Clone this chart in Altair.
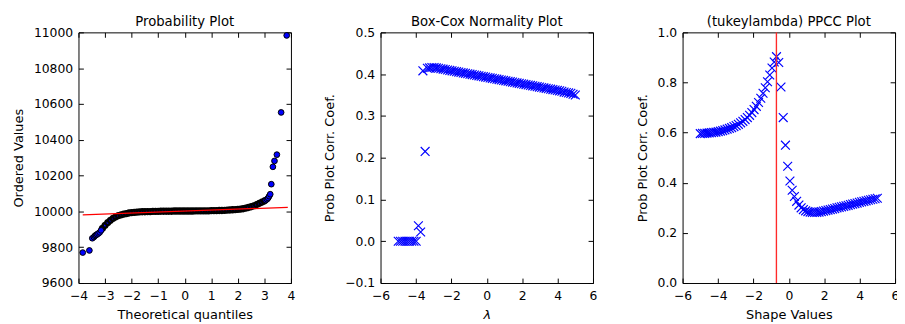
import altair as alt
import pandas as pd

# ---------------- data ----------------
# Probability plot: sparse tail points (theoretical quantile, ordered value)
qq_tail_x = [-3.84, -3.59, -3.48, -3.42, -3.38, -3.34, -3.30, -3.25, -3.20, -3.15,
             3.05, 3.10, 3.14, 3.18, 3.22, 3.26, 3.32, 3.38, 3.47, 3.63, 3.84]
qq_tail_y = [9770, 9782, 9850, 9857, 9864, 9868, 9872, 9877, 9883, 9894,
             10063, 10068, 10075, 10085, 10096, 10152, 10249, 10282, 10317, 10553, 10983]
# Probability plot: dense body of the sample
qq_body_x = [-3.1, -3.0, -2.9, -2.8, -2.7, -2.6, -2.5, -2.4, -2.3, -2.2,
             -2.1, -2.0, -1.9, -1.8, -1.7, -1.6, -1.5, -1.4, -1.3, -1.2,
             -1.1, -1.0, -0.9, -0.8, -0.7, -0.6, -0.5, -0.4, -0.3, -0.2,
             -0.1, 0.0, 0.1, 0.2, 0.3, 0.4, 0.5, 0.6, 0.7, 0.8,
             0.9, 1.0, 1.1, 1.2, 1.3, 1.4, 1.5, 1.6, 1.7, 1.8,
             1.9, 2.0, 2.1, 2.2, 2.3, 2.4, 2.5, 2.6, 2.7, 2.8,
             2.9, 3.0]
qq_body_y = [9905, 9922, 9937, 9950, 9961, 9969, 9976, 9981, 9985, 9988,
             9991, 9993, 9995, 9996, 9997, 9998, 9998, 9999, 9999, 10000,
             10000, 10000, 10001, 10001, 10001, 10001, 10001, 10002, 10002, 10002,
             10002, 10002, 10002, 10002, 10002, 10003, 10003, 10003, 10003, 10003,
             10003, 10004, 10004, 10004, 10005, 10005, 10006, 10007, 10008, 10009,
             10010, 10011, 10013, 10015, 10018, 10022, 10026, 10031, 10037, 10044,
             10051, 10058]
# least-squares fit line end points
fit_x = [-3.84, 3.88]
fit_y = [9980, 10023]

# Box-Cox normality plot
boxcox_lambda = [-5.000, -4.873, -4.747, -4.620, -4.494, -4.367, -4.241, -4.114, -3.987, -3.861,
                 -3.734, -3.608, -3.481, -3.354, -3.228, -3.101, -2.975, -2.848, -2.722, -2.595,
                 -2.468, -2.342, -2.215, -2.089, -1.962, -1.835, -1.709, -1.582, -1.456, -1.329,
                 -1.203, -1.076, -0.949, -0.823, -0.696, -0.570, -0.443, -0.316, -0.190, -0.063,
                 0.063, 0.190, 0.316, 0.443, 0.570, 0.696, 0.823, 0.949, 1.076, 1.203,
                 1.329, 1.456, 1.582, 1.709, 1.835, 1.962, 2.089, 2.215, 2.342, 2.468,
                 2.595, 2.722, 2.848, 2.975, 3.101, 3.228, 3.354, 3.481, 3.608, 3.734,
                 3.861, 3.987, 4.114, 4.241, 4.367, 4.494, 4.620, 4.747, 4.873, 5.000]
boxcox_ppcc = [0.000, 0.000, 0.000, 0.000, 0.000, 0.000, 0.000, 0.000, 0.000,
               0.037, 0.022, 0.408, 0.215, 0.414,
               0.415, 0.416, 0.416, 0.415, 0.414, 0.413, 0.412, 0.411, 0.410, 0.409,
               0.408, 0.407, 0.406, 0.405, 0.404, 0.403, 0.402, 0.401, 0.400, 0.399,
               0.398, 0.397, 0.396, 0.395, 0.394, 0.393, 0.392, 0.391, 0.390, 0.389,
               0.388, 0.387, 0.386, 0.385, 0.384, 0.383, 0.382, 0.381, 0.380, 0.379,
               0.378, 0.377, 0.376, 0.375, 0.374, 0.373, 0.372, 0.371, 0.370, 0.369,
               0.368, 0.367, 0.366, 0.365, 0.364, 0.363, 0.362, 0.361, 0.360, 0.359,
               0.357, 0.356, 0.355, 0.354, 0.352, 0.350]

# Tukey-lambda PPCC plot
shape_values = [-5.000, -4.873, -4.747, -4.620, -4.494, -4.367, -4.241, -4.114, -3.987, -3.861,
                -3.734, -3.608, -3.481, -3.354, -3.228, -3.101, -2.975, -2.848, -2.722, -2.595,
                -2.468, -2.342, -2.215, -2.089, -1.962, -1.835, -1.709, -1.582, -1.456, -1.329,
                -1.203, -1.076, -0.949, -0.823, -0.696, -0.570, -0.443, -0.316, -0.190, -0.063,
                0.063, 0.190, 0.316, 0.443, 0.570, 0.696, 0.823, 0.949, 1.076, 1.203,
                1.329, 1.456, 1.582, 1.709, 1.835, 1.962, 2.089, 2.215, 2.342, 2.468,
                2.595, 2.722, 2.848, 2.975, 3.101, 3.228, 3.354, 3.481, 3.608, 3.734,
                3.861, 3.987, 4.114, 4.241, 4.367, 4.494, 4.620, 4.747, 4.873, 5.000]
tukey_ppcc = [0.596, 0.597, 0.597, 0.598, 0.599, 0.600, 0.601, 0.602, 0.604, 0.606,
              0.608, 0.611, 0.614, 0.617, 0.620, 0.624, 0.628, 0.633, 0.639, 0.645,
              0.652, 0.660, 0.669, 0.680, 0.692, 0.705, 0.720, 0.737, 0.757, 0.779,
              0.803, 0.830, 0.858, 0.882, 0.903,
              0.880, 0.782, 0.660, 0.550, 0.466, 0.407, 0.370, 0.345, 0.326, 0.311,
              0.300, 0.293, 0.288, 0.285, 0.283, 0.282, 0.282, 0.282, 0.283, 0.285,
              0.287, 0.289, 0.291, 0.293, 0.295, 0.297, 0.300, 0.302, 0.304, 0.306,
              0.308, 0.310, 0.313, 0.315, 0.317, 0.319, 0.322, 0.324, 0.326, 0.328,
              0.330, 0.332, 0.334, 0.336, 0.338]
true_shape = [-0.7]

# axis ticks
qq_xticks = [-4, -3, -2, -1, 0, 1, 2, 3, 4]
qq_yticks = [9600, 9800, 10000, 10200, 10400, 10600, 10800, 11000]
bc_xticks = [-6, -4, -2, 0, 2, 4, 6]
bc_yticks = [-0.1, 0.0, 0.1, 0.2, 0.3, 0.4, 0.5]
pp_xticks = [-6, -4, -2, 0, 2, 4, 6]
pp_yticks = [0.0, 0.2, 0.4, 0.6, 0.8, 1.0]

# ---------------- styling ----------------
W, H = 217, 256
FONT = "DejaVu Sans"
LABEL_SIZE = 12.6
AXTITLE_SIZE = 13.2
TITLE_SIZE = 13.5
BLUE = "#0000ff"
XMARK = "M-1,-1L1,1M-1,1L1,-1"


def sc(dom):
    return alt.Scale(domain=dom, nice=False, zero=False)


def main_axis(orient, ticks, fmt, title, pad, tpad, style="normal"):
    return alt.Axis(orient=orient, values=ticks, format=fmt, ticks=False, domain=False,
                    grid=False, labelPadding=pad, labelFlush=False, labelOverlap=False,
                    labelFont=FONT, labelFontSize=LABEL_SIZE, labelColor="black",
                    title=title, titleFont=FONT, titleFontSize=AXTITLE_SIZE,
                    titleFontWeight="normal", titleFontStyle=style, titleColor="black",
                    titlePadding=tpad)


def tick_axis(orient, offset, ticks):
    return alt.Axis(orient=orient, offset=offset, values=ticks, labels=False, domain=False,
                    grid=False, ticks=True, tickSize=5, tickColor="black", tickWidth=1,
                    title=None)


def tick_layers(df, xf, yf, xdom, ydom, xt, yt):
    b = alt.Chart(df).mark_point(opacity=0).encode(
        x=alt.X(xf, type="quantitative", scale=sc(xdom), axis=tick_axis("top", -H, xt)),
        y=alt.Y(yf, type="quantitative", scale=sc(ydom), axis=tick_axis("right", -W, yt)))
    c = alt.Chart(df).mark_point(opacity=0).encode(
        x=alt.X(xf, type="quantitative", scale=sc(xdom), axis=tick_axis("bottom", -H, xt)),
        y=alt.Y(yf, type="quantitative", scale=sc(ydom), axis=tick_axis("left", -W, yt)))
    return [b, c]


def ptitle(text):
    return alt.TitleParams(text=text, font=FONT, fontSize=TITLE_SIZE, fontWeight="normal",
                           color="black", offset=-2, anchor="middle")


XPAD, XTPAD = 7, 7
YPAD, YTPAD = 6, 8

# ---------------- panel 1: probability plot ----------------
qq_dom_x, qq_dom_y = [-4, 4], [9600, 11000]
body_df = pd.DataFrame({"q": qq_body_x, "v": qq_body_y})
tail_df = pd.DataFrame({"q": qq_tail_x, "v": qq_tail_y})
fit_df = pd.DataFrame({"q": fit_x, "v": fit_y})

qq_body = alt.Chart(body_df).mark_point(
    shape="circle", filled=True, fill=BLUE, stroke="black", strokeWidth=2.6,
    size=24, opacity=1).encode(
    x=alt.X("q", type="quantitative", scale=sc(qq_dom_x),
            axis=main_axis("bottom", qq_xticks, "d", "Theoretical quantiles", XPAD, XTPAD)),
    y=alt.Y("v", type="quantitative", scale=sc(qq_dom_y),
            axis=main_axis("left", qq_yticks, "d", "Ordered Values", YPAD, YTPAD)))
qq_tail = alt.Chart(tail_df).mark_point(
    shape="circle", filled=True, fill=BLUE, stroke="black", strokeWidth=1,
    size=34, opacity=1).encode(
    x=alt.X("q", type="quantitative", scale=sc(qq_dom_x), axis=None),
    y=alt.Y("v", type="quantitative", scale=sc(qq_dom_y), axis=None))
qq_fit = alt.Chart(fit_df).mark_line(color="#ff0000", strokeWidth=1.3).encode(
    x=alt.X("q", type="quantitative", scale=sc(qq_dom_x), axis=None),
    y=alt.Y("v", type="quantitative", scale=sc(qq_dom_y), axis=None))

p1 = alt.layer(qq_body, qq_tail, qq_fit,
               *tick_layers(tail_df, "q", "v", qq_dom_x, qq_dom_y, qq_xticks, qq_yticks)
               ).resolve_axis(x="independent", y="independent").properties(
    width=W, height=H, title=ptitle("Probability Plot"))

# ---------------- panel 2: Box-Cox normality plot ----------------
bc_dom_x, bc_dom_y = [-6, 6], [-0.1, 0.5]
bc_df = pd.DataFrame({"lam": boxcox_lambda, "r": boxcox_ppcc})
bc_pts = alt.Chart(bc_df).mark_point(
    shape=XMARK, filled=False, color=BLUE, strokeWidth=1.2, size=81, opacity=1).encode(
    x=alt.X("lam", type="quantitative", scale=sc(bc_dom_x),
            axis=main_axis("bottom", bc_xticks, "d", "λ", XPAD, XTPAD, style="italic")),
    y=alt.Y("r", type="quantitative", scale=sc(bc_dom_y),
            axis=main_axis("left", bc_yticks, ".1f", "Prob Plot Corr. Coef.", YPAD, YTPAD)))
p2 = alt.layer(bc_pts,
               *tick_layers(bc_df, "lam", "r", bc_dom_x, bc_dom_y, bc_xticks, bc_yticks)
               ).resolve_axis(x="independent", y="independent").properties(
    width=W, height=H, title=ptitle("Box-Cox Normality Plot"))

# ---------------- panel 3: PPCC plot ----------------
pp_dom_x, pp_dom_y = [-6, 6], [0, 1]
pp_df = pd.DataFrame({"s": shape_values, "r": tukey_ppcc})
vline_df = pd.DataFrame({"s": true_shape})
pp_pts = alt.Chart(pp_df).mark_point(
    shape=XMARK, filled=False, color=BLUE, strokeWidth=1.2, size=81, opacity=1).encode(
    x=alt.X("s", type="quantitative", scale=sc(pp_dom_x),
            axis=main_axis("bottom", pp_xticks, "d", "Shape Values", XPAD, XTPAD)),
    y=alt.Y("r", type="quantitative", scale=sc(pp_dom_y),
            axis=main_axis("left", pp_yticks, ".1f", "Prob Plot Corr. Coef.", YPAD, YTPAD)))
pp_vline = alt.Chart(vline_df).mark_rule(color="#ff2a2a", strokeWidth=1.4).encode(
    x=alt.X("s", type="quantitative", scale=sc(pp_dom_x), axis=None))
p3 = alt.layer(pp_pts, pp_vline,
               *tick_layers(pp_df, "s", "r", pp_dom_x, pp_dom_y, pp_xticks, pp_yticks)
               ).resolve_axis(x="independent", y="independent").properties(
    width=W, height=H, title=ptitle("(tukeylambda) PPCC Plot"))

# the reference is cropped at its right edge (the last "6" is cut off), so the
# right padding is negative to crop the svg the same way
chart = alt.hconcat(p1, p2, p3, spacing=91.5, bounds="flush").properties(
    padding={"left": 3, "top": 3.5, "right": -3, "bottom": 0}
).configure_view(stroke="black", strokeWidth=1)

chart.save("out.html", embed_options={"renderer": "svg", "actions": False})
